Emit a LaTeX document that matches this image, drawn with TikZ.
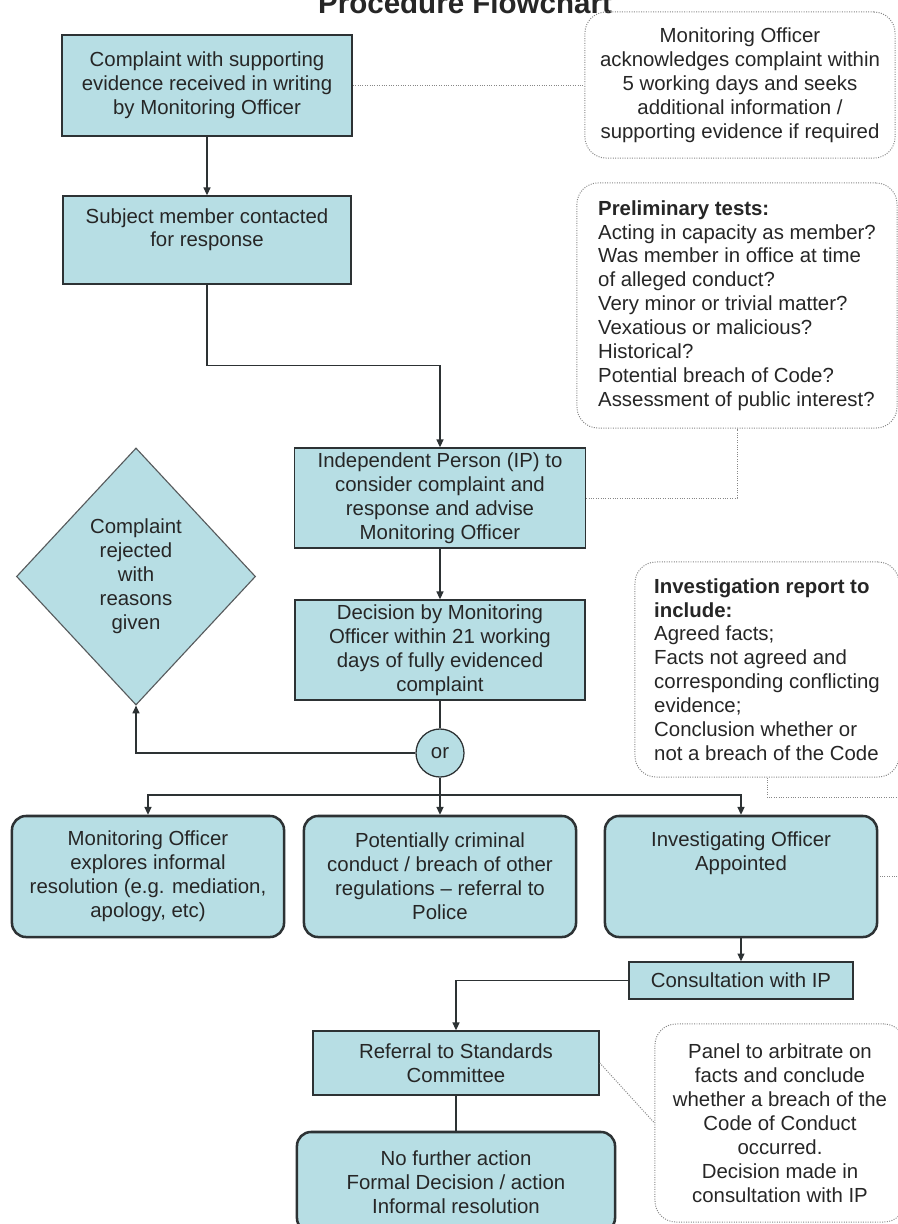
\documentclass[tikz,border=0pt]{standalone}
\usepackage{fontspec}
\setmainfont{Liberation Sans}
\usetikzlibrary{shapes.geometric, arrows.meta}
\definecolor{boxfill}{RGB}{183,222,228}
\definecolor{boxline}{RGB}{45,50,52}
\definecolor{noteline}{RGB}{135,135,135}

\begin{document}
\begin{tikzpicture}[x=0.025cm, y=-0.025cm, >={Triangle[length=5.5pt,width=5pt]},
  every node/.style={font=\fontsize{14.5}{17}\selectfont, text=black!85},
  box/.style={draw=boxline, fill=boxfill, line width=1.1pt, inner sep=0pt, align=center},
  rbox/.style={box, rounded corners=10pt, line width=1.8pt},
  dia/.style={box, diamond, line width=0.8pt, draw=boxline!80},
  orc/.style={box, circle, line width=0.9pt, minimum size=1.2cm},
  note/.style={draw=noteline, densely dotted, line width=0.7pt, rounded corners=15pt, inner sep=0pt},
  link/.style={draw=boxline, line width=0.9pt},
  dotlink/.style={draw=noteline, densely dotted, line width=0.7pt}]
  \path[use as bounding box, fill=white] (0,0) rectangle (897,1224);

  \node[font=\bfseries\fontsize{21}{24}\selectfont, anchor=base] (title) at (465,13) {Procedure Flowchart};

  % main column
  \node[box, minimum width=7.25cm, minimum height=2.525cm] (b1) at (207,85.5)
    {Complaint with supporting\\evidence received in writing\\by Monitoring Officer};
  \node[box, minimum width=7.2cm, minimum height=2.2cm] (b2) at (207,240)
    {\parbox[c][2.2cm][t]{7.2cm}{\vspace*{8.7pt}\centering Subject member contacted\\for response}};
  \node[box, minimum width=7.275cm, minimum height=2.5cm] (b3) at (440,498)
    {Independent Person (IP) to\\consider complaint and\\response and advise\\Monitoring Officer};
  \node[box, minimum width=7.25cm, minimum height=2.5cm] (b4) at (440,650)
    {Decision by Monitoring\\Officer within 21 working\\days of fully evidenced\\complaint};
  \node[dia, minimum width=5.975cm, minimum height=6.425cm] (dia) at (136,576.5)
    {Complaint\\rejected\\with\\reasons\\given};
  \node[orc] (or) at (440,753) {or};

  % outcomes
  \node[rbox, minimum width=6.8cm, minimum height=3.025cm] (b5) at (148,876.5)
    {Monitoring Officer\\explores informal\\resolution (e.g. mediation,\\apology, etc)};
  \node[rbox, minimum width=6.8cm, minimum height=3.025cm] (b6) at (440,876.5)
    {Potentially criminal\\conduct / breach of other\\regulations -- referral to\\Police};
  \node[rbox, minimum width=6.8cm, minimum height=3.025cm] (b7) at (741,876.5)
    {\parbox[c][3.025cm][t]{6.8cm}{\vspace*{11.4pt}\centering Investigating Officer\\Appointed}};
  \node[box, minimum width=5.6cm, minimum height=0.925cm] (b8) at (741,980.5) {Consultation with IP};
  \node[box, minimum width=7.15cm, minimum height=1.6cm] (b9) at (456,1063)
    {Referral to Standards\\Committee};
  \node[rbox, minimum width=7.95cm, minimum height=2.5cm] (b10) at (456,1182)
    {No further action\\Formal Decision / action\\Informal resolution};

  % side notes
  \node[note, minimum width=7.75cm, minimum height=3.65cm, align=center] (n1) at (740,85)
    {Monitoring Officer\\acknowledges complaint within\\5 working days and seeks\\additional information /\\supporting evidence if required};
  \node[note, minimum width=8cm, minimum height=6.125cm, align=left] (n2) at (737,305.5)
    {\textbf{Preliminary tests:}\\Acting in capacity as member?\\Was member in office at time\\of alleged conduct?\\Very minor or trivial matter?\\Vexatious or malicious?\\Historical?\\Potential breach of Code?\\Assessment of public interest?};
  \node[note, minimum width=6.6cm, minimum height=5.375cm, align=left] (n3) at (767,669.5)
    {\textbf{Investigation report to}\\\textbf{include:}\\Agreed facts;\\Facts not agreed and\\corresponding conflicting\\evidence;\\Conclusion whether or\\not a breach of the Code};
  \node[note, minimum width=6.25cm, minimum height=4.95cm, align=center] (n4) at (780,1123)
    {Panel to arbitrate on\\facts and conclude\\whether a breach of the\\Code of Conduct\\occurred.\\Decision made in\\consultation with IP};

  % connectors
  \draw[link,->] (b1) -- (b2);
  \draw[link,->] (b2.south) -- ++(0,81) -| (b3.north);
  \draw[link,->] (b3) -- (b4);
  \draw[link] (b4) -- (or);
  \draw[link,->] (or.west) -| (dia.south);
  \draw[link,->] (or) -- (b6);
  \coordinate (split) at (440,795);
  \draw[link,->] (split) -| (b5.north);
  \draw[link,->] (split) -| (b7.north);
  \draw[link,->] (b7) -- (b8);
  \draw[link,->] (b8.west) -| (b9.north);
  \draw[link] (b9) -- (b10);

  \draw[dotlink] (b1.east) -- (b1.east -| n1.west);
  \draw[dotlink] (b3.east) -| (n2.south);
  \draw[dotlink] (n3.south) |- (950,797) |- (b7.east);
  \draw[dotlink] (b9.east) -- (n4.west);
\end{tikzpicture}
\end{document}
